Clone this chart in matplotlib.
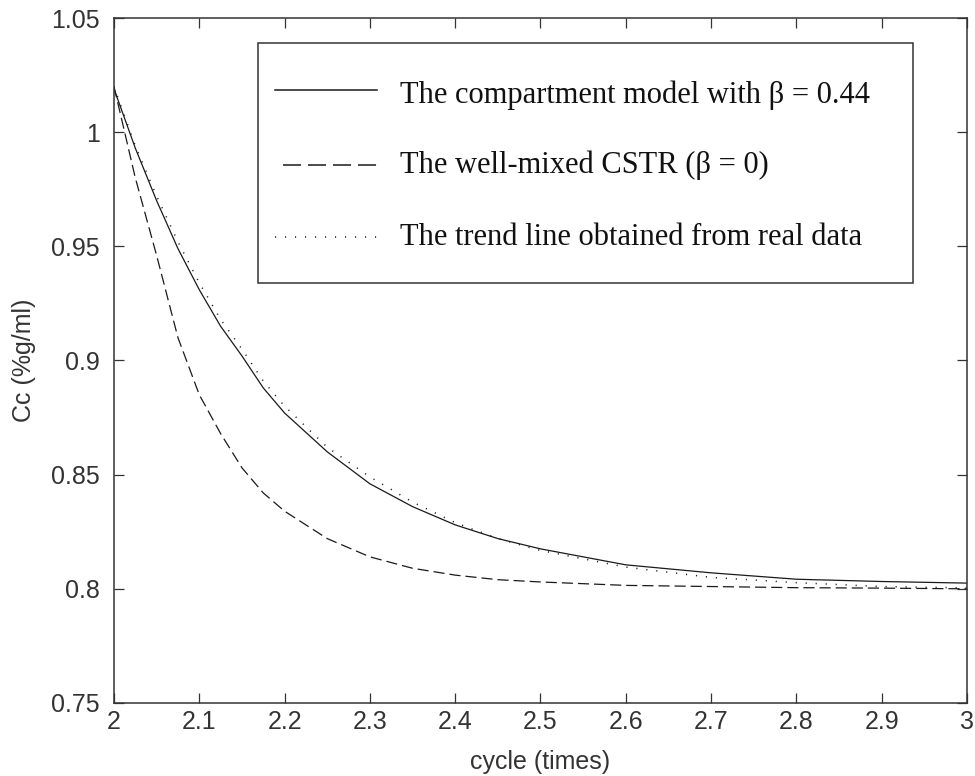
import matplotlib
matplotlib.use("Agg")
import matplotlib.pyplot as plt
from matplotlib.lines import Line2D
from matplotlib.patches import Rectangle

# values
cycle = [2.0, 2.025, 2.05, 2.075, 2.1, 2.125, 2.15, 2.175, 2.2, 2.25,
         2.3, 2.35, 2.4, 2.45, 2.5, 2.6, 2.7, 2.8, 2.9, 3.0]

cc_compartment = [1.019, 0.993, 0.970, 0.949, 0.931, 0.915, 0.902, 0.888, 0.877, 0.860,
                  0.846, 0.836, 0.828, 0.822, 0.8175, 0.8105, 0.807, 0.8042, 0.8032, 0.8025]

cc_cstr = [1.020, 0.980, 0.946, 0.910, 0.885, 0.868, 0.853, 0.842, 0.834, 0.822,
           0.814, 0.809, 0.806, 0.804, 0.803, 0.8015, 0.801, 0.8005, 0.8003, 0.800]

cc_trend = [1.020, 0.994, 0.972, 0.952, 0.934, 0.918, 0.905, 0.891, 0.880, 0.862,
            0.849, 0.838, 0.829, 0.822, 0.8168, 0.8095, 0.805, 0.8027, 0.801, 0.8004]

labels = ["The compartment model with β = 0.44",
          "The well-mixed CSTR (β = 0)",
          "The trend line obtained from real data"]

xticks = [2, 2.1, 2.2, 2.3, 2.4, 2.5, 2.6, 2.7, 2.8, 2.9, 3]
xticklabels = ["2", "2.1", "2.2", "2.3", "2.4", "2.5", "2.6", "2.7", "2.8", "2.9", "3"]
yticks = [0.75, 0.8, 0.85, 0.9, 0.95, 1.0, 1.05]
yticklabels = ["0.75", "0.8", "0.85", "0.9", "0.95", "1", "1.05"]

plt.rcParams['font.family'] = ['Liberation Sans', 'DejaVu Sans']
plt.rcParams['lines.scale_dashes'] = False

txt_col = '#333333'
line_col = '#1a1a1a'
solid_style = '-'
dash_style = (0, (8, 3.6))
dot_style = (0, (0.8, 6.4))
legend_dash = (0, (13, 5))

fig = plt.figure(figsize=(9.75, 7.76), dpi=100)
ax = fig.add_axes([0.1169, 0.0941, 0.8749, 0.8827])

ax.plot(cycle, cc_compartment, color=line_col, lw=0.9, linestyle=solid_style)
ax.plot(cycle, cc_cstr, color=line_col, lw=0.9, linestyle=dash_style)
ax.plot(cycle, cc_trend, color=line_col, lw=1.1, linestyle=dot_style)

ax.set_xlim(2, 3)
ax.set_ylim(0.75, 1.05)
ax.set_xticks(xticks)
ax.set_xticklabels(xticklabels)
ax.set_yticks(yticks)
ax.set_yticklabels(yticklabels)

ax.tick_params(direction='in', length=7, width=0.9, top=True, right=True,
               labelsize=18, colors=txt_col, color='#333333')
ax.tick_params(axis='x', pad=5)
ax.tick_params(axis='y', pad=10)
for s in ax.spines.values():
    s.set_linewidth(1.1)
    s.set_color('#333333')

ax.set_xlabel("cycle (times)", fontsize=18, color=txt_col)
ax.xaxis.label.set_va('center')
ax.xaxis.set_label_coords(0.5, -0.086)
ax.set_ylabel("Cc (%g/ml)", fontsize=18, color=txt_col)
ax.yaxis.label.set_va('center')
ax.yaxis.set_label_coords(-0.1055, 0.5)

# legend box drawn by hand, MATLAB style
ax.add_patch(Rectangle((0.1688, 0.6131), 0.7679, 0.3504, transform=ax.transAxes,
                       facecolor='white', edgecolor='#333333', lw=1.1, zorder=5))
rows = [(0.8949, 0.8759, solid_style, 0.1887),
        (0.7854, 0.7737, legend_dash, 0.1981),
        (0.6803, 0.6686, dot_style, 0.1887)]
for (ly, ty, ls, x0), lab in zip(rows, labels):
    ax.add_line(Line2D([x0, 0.3083], [ly, ly], transform=ax.transAxes,
                       color=line_col, lw=1.1, linestyle=ls, zorder=6))
    ax.text(0.3353, ty, lab, transform=ax.transAxes, fontsize=22,
            family=['Liberation Serif', 'DejaVu Serif'], color='#111111',
            va='baseline', ha='left', zorder=7)

fig.savefig("out.png", dpi=100)
